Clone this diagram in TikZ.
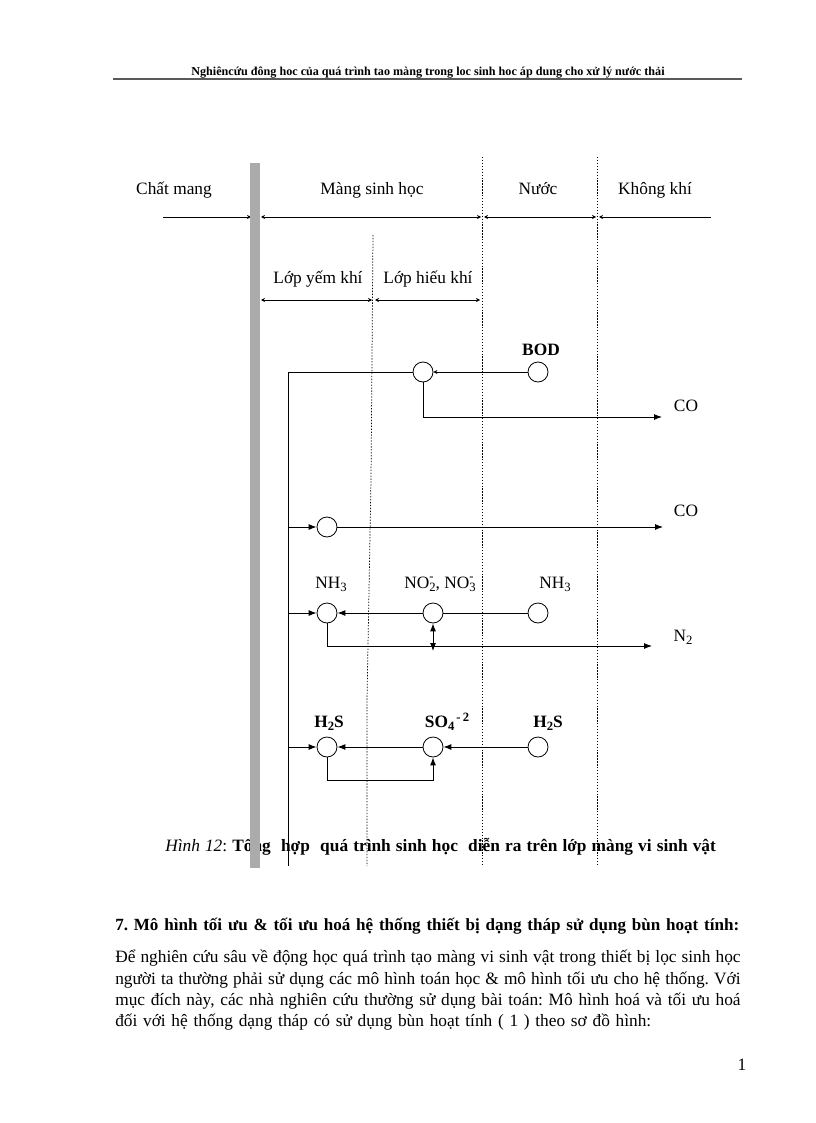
\documentclass[tikz,border=0pt]{standalone}
\usepackage{fontspec}
\setmainfont{Liberation Serif}
\usetikzlibrary{arrows.meta}
\frenchspacing
\newcommand\lowsub[1]{\raisebox{-0.45ex}{\fontsize{9.5}{9.5}\selectfont #1}}
\newcommand\lowsubsup[2]{\makebox[0pt][l]{\raisebox{0.95ex}{\fontsize{9.5}{9.5}\selectfont #2}}\raisebox{-0.45ex}{\fontsize{9.5}{9.5}\selectfont #1}}
\begin{document}
\begin{tikzpicture}[x=0.75pt,y=-0.75pt,
  lbl/.style={font=\fontsize{13}{15}\selectfont, inner sep=0pt, anchor=base},
  blbl/.style={font=\fontsize{13}{15}\selectfont\bfseries, inner sep=0pt, anchor=base},
  circ/.style={draw, circle, minimum size=15pt, inner sep=0pt, line width=0.6pt},
  dotln/.style={line width=0.55pt, dash pattern=on 1pt off 1.2pt},
  ln/.style={line width=0.7pt},
  arr/.style={ln, -{Latex[length=6pt,width=4.5pt]}},
  sarr/.style={ln, -{Stealth[length=3pt,width=3pt]}},
  dimarr/.style={ln, {Stealth[length=3pt,width=3pt]}-{Stealth[length=3pt,width=3pt]}}
]
\useasboundingbox[fill=white] (0,0) rectangle (816,1123);

% header
\node[font=\fontsize{9.1}{10}\selectfont\bfseries, anchor=base, inner sep=0pt] (hdr) at (428,76) {Nghiêncứu đông hoc của quá trình tao màng trong loc sinh hoc áp dung cho xử lý nước thải};
\coordinate (hl1) at (113,79);
\coordinate (hl2) at (742,79);
\draw[line width=1pt, black!65] (hl1) -- (hl2);

% zone labels
\node[lbl] (chat) at (174,195) {Chất mang};
\node[lbl] (mang) at (372,195) {Màng sinh học};
\node[lbl] (nuoc) at (538,195) {Nước};
\node[lbl] (kk) at (655,195) {Không khí};

% top dimension line
\coordinate (t0) at (163,217);
\coordinate (t1) at (251,217);
\coordinate (t2) at (261,217);
\coordinate (t3) at (481,217);
\coordinate (t4) at (484,217);
\coordinate (t5) at (596,217);
\coordinate (t6) at (599,217);
\coordinate (t7) at (711,217);
\draw[ln, -{Stealth[length=3pt,width=3pt]}] (t0) -- (t1);
\draw[dimarr] (t2) -- (t3);
\draw[dimarr] (t4) -- (t5);
\draw[ln, {Stealth[length=3pt,width=3pt]}-] (t6) -- (t7);

% dotted boundaries
\coordinate (d1a) at (373,235);
\coordinate (d1b) at (371,480);
\coordinate (d1c) at (367,700);
\coordinate (d1d) at (367,866);
\coordinate (d2a) at (482,157);
\coordinate (d2b) at (482,866);
\coordinate (d3a) at (597,157);
\coordinate (d3b) at (597,866);
\draw[dotln] (d1a) -- (d1b) -- (d1c) -- (d1d);
\draw[dotln] (d2a) -- (d2b);
\draw[dotln] (d3a) -- (d3b);

% sub-layer labels
\node[lbl] (yem) at (318,283) {Lớp yếm khí};
\node[lbl] (hieu) at (428,283) {Lớp hiếu khí};
\coordinate (l0) at (261,300);
\coordinate (l1) at (372,300);
\coordinate (l2) at (375,300);
\coordinate (l3) at (480,300);
\draw[dimarr] (l0) -- (l1);
\draw[dimarr] (l2) -- (l3);

% main vertical line
\coordinate (vtop) at (288,372);
\coordinate (vbot) at (288,866);
\draw[ln] (vtop) -- (vbot);

% BOD row
\node[circ] (b1) at (423,372) {};
\node[circ] (b2) at (538,372) {};
\node[blbl] (bod) at (541,355) {BOD};
\draw[ln] (vtop) -- (b1.west);
\draw[sarr] (b2.west) -- (b1.east);
\coordinate (co1e) at (662,417);
\draw[arr] (b1.south) |- (co1e);
\node[lbl] (co1) at (686,411) {CO};

% CO row
\node[circ] (c1) at (327,527) {};
\coordinate (c0) at (288,527);
\coordinate (co2e) at (663,527);
\draw[arr] (c0) -- (c1.west);
\draw[arr] (c1.east) -- (co2e);
\node[lbl] (co2) at (686,516) {CO};

% NH3 row
\node[circ] (n1) at (327,613) {};
\node[circ] (n2) at (433,613) {};
\node[circ] (n3) at (538,613) {};
\node[lbl] (nh3a) at (331,588) {NH\lowsub{3}};
\node[lbl] (no) at (440,588) {NO\lowsubsup{2}{-}, NO\lowsubsup{3}{-}};
\node[lbl] (nh3b) at (555,588) {NH\lowsub{3}};
\coordinate (n0) at (288,613);
\draw[arr] (n0) -- (n1.west);
\draw[ln] (n3.west) -- (n2.east);
\draw[arr] (n2.west) -- (n1.east);
\coordinate (n2e) at (652,646);
\draw[arr] (n1.south) |- (n2e);
\coordinate (n2d) at (433,651);
\draw[ln, {Latex[length=6pt,width=4.5pt]}-{Latex[length=6pt,width=4.5pt]}] (n2.south) -- (n2d);
\node[lbl] (n2lbl) at (683,641) {N\lowsub{2}};

% H2S row
\node[circ] (h1) at (327,747) {};
\node[circ] (h2) at (433,747) {};
\node[circ] (h3) at (538,747) {};
\node[blbl] (h2sa) at (329,727) {H\lowsub{2}S};
\node[blbl] (so4) at (447,727) {SO\lowsub{4}\raisebox{0.75ex}{\fontsize{9.5}{9.5}\selectfont\bfseries \,-\,2}};
\node[blbl] (h2sb) at (548,727) {H\lowsub{2}S};
\coordinate (h0) at (288,747);
\draw[arr] (h0) -- (h1.west);
\draw[arr] (h2.west) -- (h1.east);
\draw[arr] (h3.west) -- (h2.east);
\coordinate (hloop) at (327,780);
\draw[arr] (h1.south) -- (hloop) -| (h2.south);

% caption
\node[anchor=base west, font=\fontsize{13}{15}\selectfont, inner sep=0pt] (cap) at (165,851) {\makebox[413pt][s]{\itshape Hình 12\/\upshape: \bfseries Tổng\ \ hợp\ \ quá trình sinh học\ \ diễn ra trên lớp màng vi sinh vật}};

% support (grey bar), drawn over the caption
\fill[black!33] (250,163) rectangle (260,868);

% section heading
\node[anchor=base west, font=\fontsize{12.8}{15}\selectfont\bfseries, inner sep=0pt] (sec) at (115,930) {\makebox[468pt][s]{7. Mô hình tối ưu \& tối ưu hoá hệ thống thiết bị dạng tháp sử dụng bùn hoạt tính:}};

% paragraph
\node[anchor=north west, inner sep=0pt, text width=469pt, align=justify, font=\fontsize{13}{15.9}\selectfont] (para) at (115,950) {Để nghiên cứu sâu về động học quá trình tạo màng vi sinh vật trong thiết bị lọc sinh học\linebreak người ta thường phải sử dụng các mô hình toán học \& mô hình tối ưu cho hệ thống. Với\linebreak mục đích này, các nhà nghiên cứu thường sử dụng bài toán: Mô hình hoá và tối ưu hoá\linebreak \makebox[402pt][s]{đối với hệ thống dạng tháp có sử dụng bùn hoạt tính ( 1 ) theo sơ đồ hình:}};

% page number
\node[anchor=base, font=\fontsize{13}{15}\selectfont, inner sep=0pt] (pg) at (742,1070) {1};
\end{tikzpicture}
\end{document}
